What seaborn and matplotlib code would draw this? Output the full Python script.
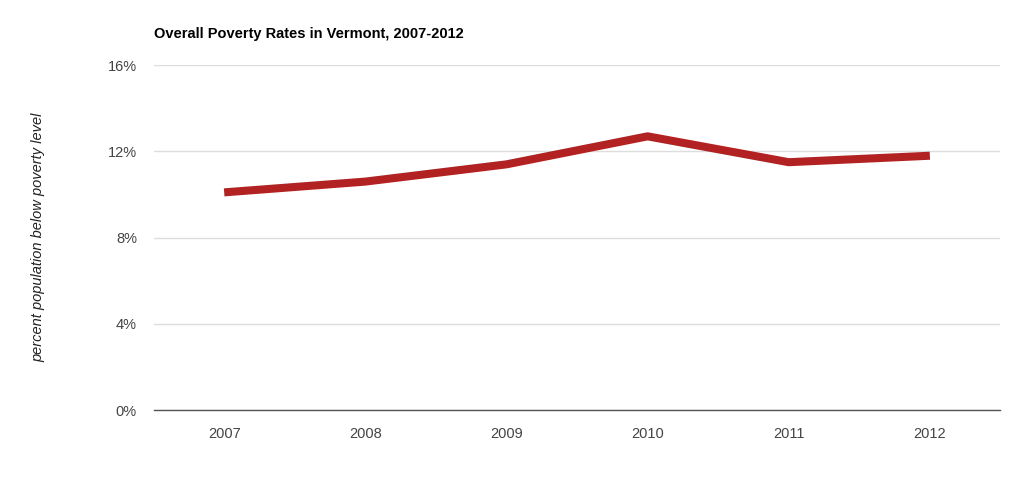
import matplotlib

matplotlib.use("Agg")

import matplotlib.pyplot as plt
import pandas as pd
import seaborn as sns
from matplotlib.ticker import FuncFormatter

years = ["2007", "2008", "2009", "2010", "2011", "2012"]
poverty_rate = [10.1, 10.6, 11.4, 12.7, 11.5, 11.8]
y_ticks = [0, 4, 8, 12, 16]

sns.set_theme(style="white")
plt.rcParams["font.family"] = ["Liberation Sans", "DejaVu Sans"]

df = pd.DataFrame({"year": years, "rate": poverty_rate})

fig = plt.figure(figsize=(10.24, 4.83), dpi=100)
ax = fig.add_axes([0.150, 0.151, 0.827, 0.714])

sns.lineplot(data=df, x="year", y="rate", ax=ax, color="#b22222",
             linewidth=5.8, sort=False, solid_capstyle="butt")

ax.set_xlim(-0.5, len(years) - 0.5)
ax.set_ylim(0, 16)
ax.set_yticks(y_ticks)
ax.yaxis.set_major_formatter(FuncFormatter(lambda v, _: f"{v:.0f}%"))
ax.grid(axis="y", color="#dddddd", linewidth=1)
ax.set_axisbelow(True)
for side in ["top", "right", "left"]:
    ax.spines[side].set_visible(False)
ax.spines["bottom"].set_color("#555555")
ax.spines["bottom"].set_linewidth(1)
ax.tick_params(axis="both", length=0, labelsize=10.5, labelcolor="#444444")
ax.tick_params(axis="x", pad=12)
ax.tick_params(axis="y", pad=12)

ax.set_xlabel("")
ax.set_ylabel("percent population below poverty level", fontsize=10.5,
              style="italic", color="#222222", labelpad=45)

fig.text(0.150, 0.930, "Overall Poverty Rates in Vermont, 2007-2012",
         fontsize=10.5, fontweight="bold", color="#000000", va="center", ha="left")

fig.savefig("out.png", dpi=100, facecolor="white")
